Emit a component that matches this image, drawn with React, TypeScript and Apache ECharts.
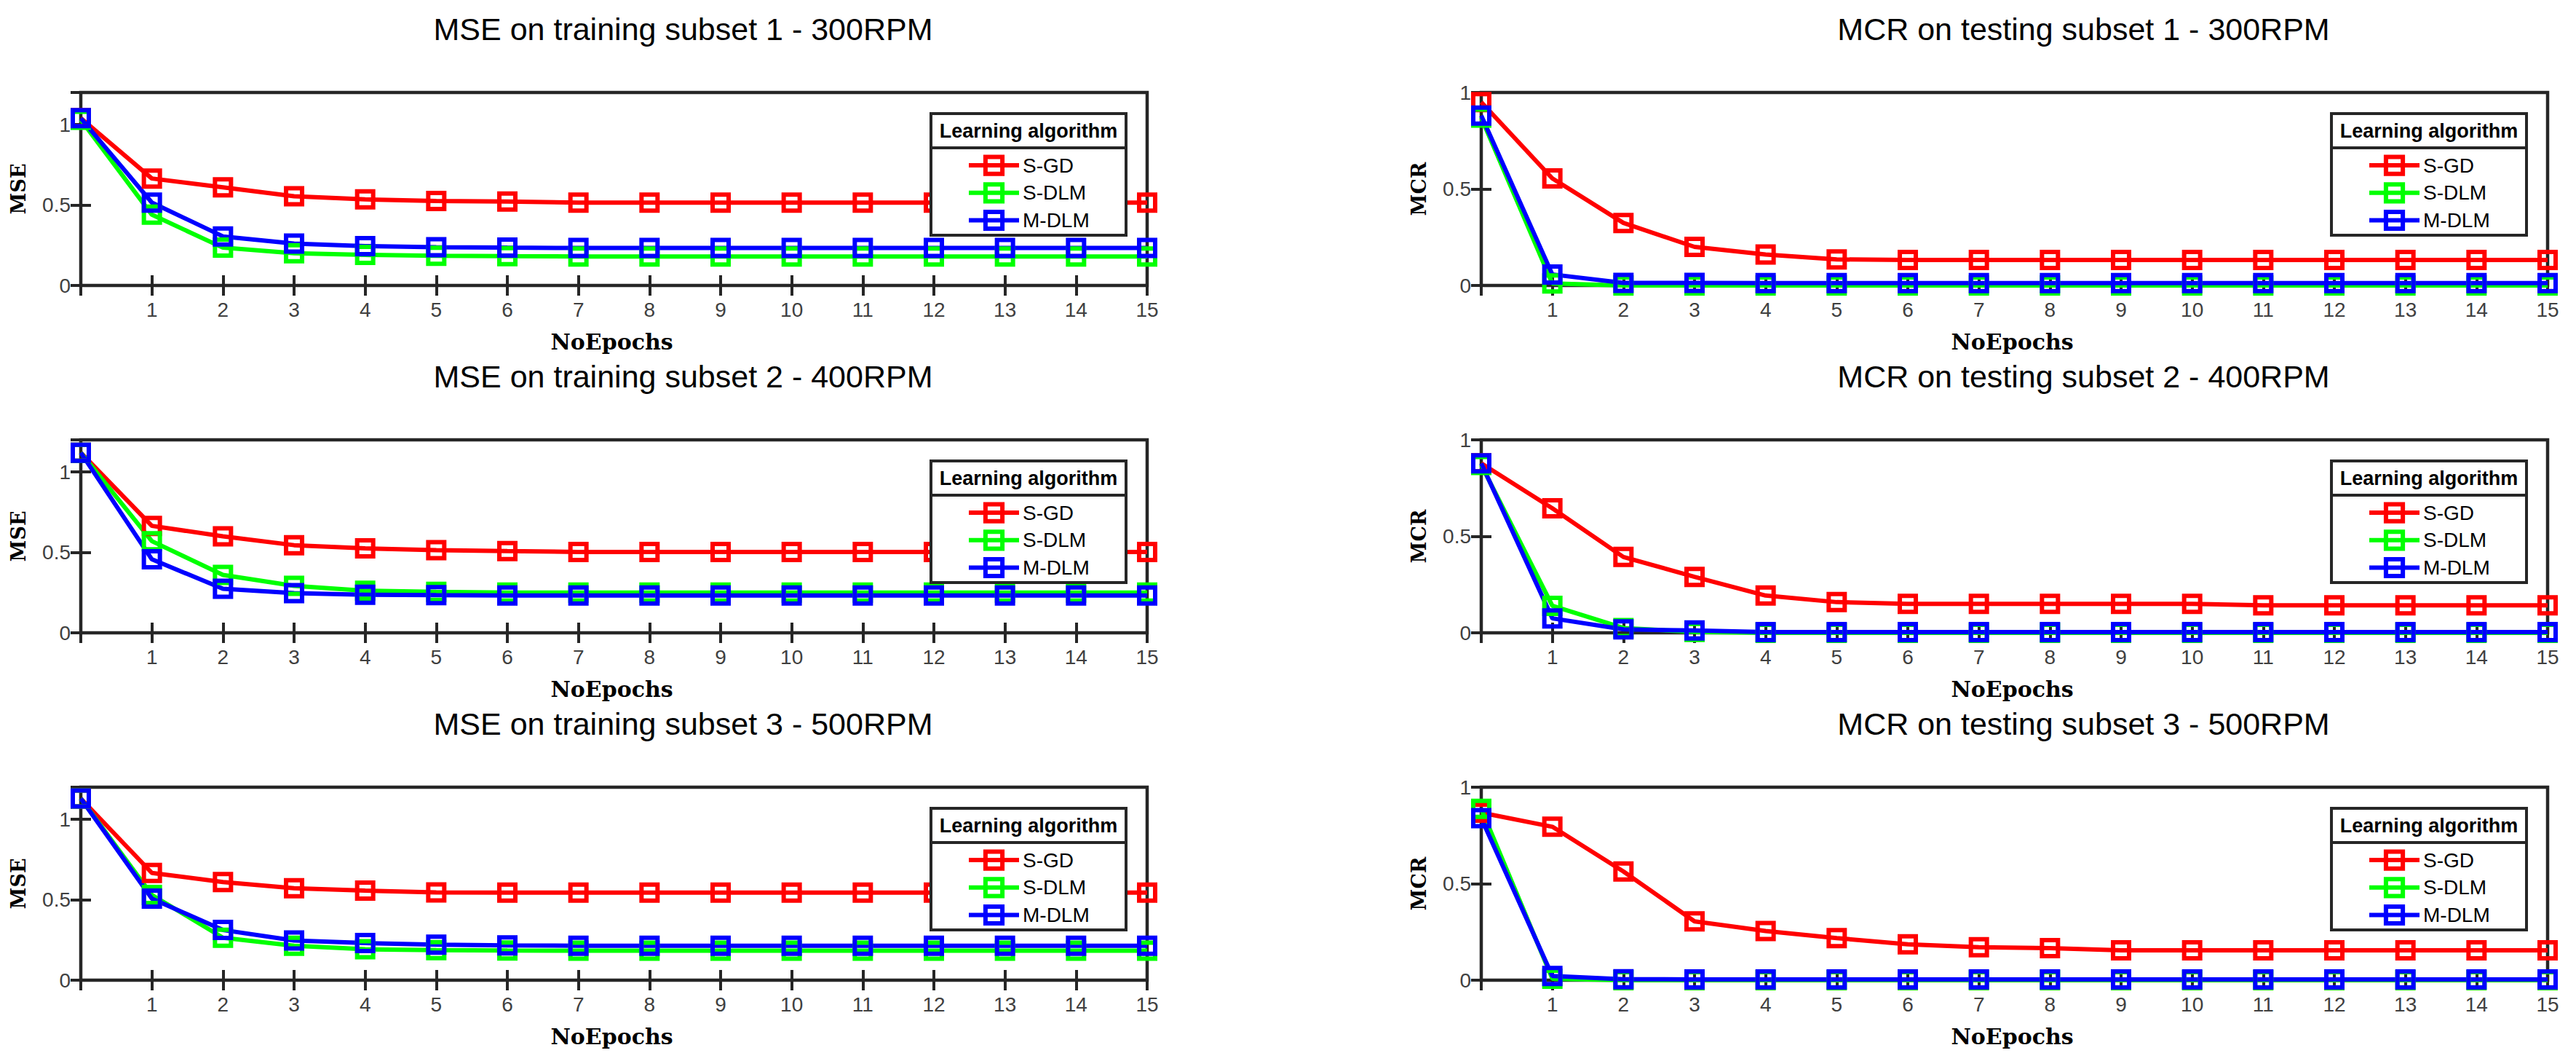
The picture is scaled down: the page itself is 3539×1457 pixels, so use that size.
import { useEffect, useRef } from 'react';
import * as echarts from 'echarts';

const epochs = [0, 1, 2, 3, 4, 5, 6, 7, 8, 9, 10, 11, 12, 13, 14, 15];
const xTickLabels = ['', '1', '2', '3', '4', '5', '6', '7', '8', '9', '10', '11', '12', '13', '14', '15'];
const yTickValues = [0, 0.5, 1];
const yTickLabels = ['0', '0.5', '1'];
const algorithms = ['S-GD', 'S-DLM', 'M-DLM'];
const algoColors = ['#ff0000', '#00ff00', '#0000ff'];

const panelTitles = [
  'MSE on training subset 1 - 300RPM',
  'MCR on testing subset 1 - 300RPM',
  'MSE on training subset 2 - 400RPM',
  'MCR on testing subset 2 - 400RPM',
  'MSE on training subset 3 - 500RPM',
  'MCR on testing subset 3 - 500RPM',
];
const panelYNames = ['MSE', 'MCR', 'MSE', 'MCR', 'MSE', 'MCR'];
const panelYMax = [1.2, 1, 1.2, 1, 1.2, 1];

// MSE, training subset 1 - 300RPM
const mse300SGD = [1.04, 0.665, 0.61, 0.555, 0.535, 0.525, 0.522, 0.515, 0.515, 0.515, 0.515, 0.515, 0.515, 0.515, 0.515, 0.515];
const mse300SDLM = [1.03, 0.44, 0.235, 0.2, 0.19, 0.185, 0.182, 0.18, 0.18, 0.18, 0.18, 0.18, 0.18, 0.18, 0.18, 0.18];
const mse300MDLM = [1.04, 0.515, 0.305, 0.26, 0.245, 0.238, 0.235, 0.233, 0.233, 0.233, 0.233, 0.233, 0.233, 0.233, 0.233, 0.233];

// MCR, testing subset 1 - 300RPM
const mcr300SGD = [0.95, 0.555, 0.324, 0.2, 0.16, 0.135, 0.132, 0.132, 0.132, 0.132, 0.132, 0.132, 0.132, 0.132, 0.132, 0.132];
const mcr300SDLM = [0.87, 0.01, 0, 0, 0, 0, 0, 0, 0, 0, 0, 0, 0, 0, 0, 0];
const mcr300MDLM = [0.88, 0.057, 0.013, 0.013, 0.012, 0.012, 0.012, 0.012, 0.012, 0.012, 0.012, 0.012, 0.012, 0.012, 0.012, 0.012];

// MSE, training subset 2 - 400RPM
const mse400SGD = [1.12, 0.665, 0.6, 0.545, 0.525, 0.514, 0.508, 0.503, 0.503, 0.503, 0.503, 0.503, 0.503, 0.503, 0.503, 0.503];
const mse400SDLM = [1.12, 0.57, 0.36, 0.292, 0.262, 0.255, 0.25, 0.25, 0.25, 0.25, 0.25, 0.25, 0.25, 0.25, 0.25, 0.25];
const mse400MDLM = [1.12, 0.457, 0.274, 0.247, 0.237, 0.234, 0.232, 0.232, 0.232, 0.232, 0.232, 0.232, 0.232, 0.232, 0.232, 0.232];

// MCR, testing subset 2 - 400RPM
const mcr400SGD = [0.878, 0.645, 0.393, 0.29, 0.193, 0.159, 0.15, 0.15, 0.15, 0.15, 0.15, 0.142, 0.142, 0.142, 0.142, 0.142];
const mcr400SDLM = [0.87, 0.14, 0.025, 0.005, 0, 0, 0, 0, 0, 0, 0, 0, 0, 0, 0, 0];
const mcr400MDLM = [0.878, 0.075, 0.018, 0.012, 0.004, 0.004, 0.004, 0.004, 0.004, 0.004, 0.004, 0.004, 0.004, 0.004, 0.004, 0.004];

// MSE, training subset 3 - 500RPM
const mse500SGD = [1.13, 0.667, 0.61, 0.572, 0.557, 0.546, 0.544, 0.544, 0.544, 0.544, 0.544, 0.544, 0.544, 0.544, 0.544, 0.544];
const mse500SDLM = [1.13, 0.53, 0.264, 0.214, 0.192, 0.187, 0.184, 0.183, 0.183, 0.183, 0.183, 0.183, 0.183, 0.183, 0.183, 0.183];
const mse500MDLM = [1.13, 0.507, 0.312, 0.247, 0.231, 0.221, 0.216, 0.214, 0.214, 0.214, 0.214, 0.214, 0.214, 0.214, 0.214, 0.214];

// MCR, testing subset 3 - 500RPM
const mcr500SGD = [0.868, 0.795, 0.563, 0.305, 0.255, 0.218, 0.186, 0.171, 0.166, 0.155, 0.155, 0.155, 0.155, 0.155, 0.155, 0.155];
const mcr500SDLM = [0.888, 0.008, 0, 0, 0, 0, 0, 0, 0, 0, 0, 0, 0, 0, 0, 0];
const mcr500MDLM = [0.84, 0.022, 0.005, 0.004, 0.004, 0.004, 0.004, 0.004, 0.004, 0.004, 0.004, 0.004, 0.004, 0.004, 0.004, 0.004];

const panelData = [
  [mse300SGD, mse300SDLM, mse300MDLM],
  [mcr300SGD, mcr300SDLM, mcr300MDLM],
  [mse400SGD, mse400SDLM, mse400MDLM],
  [mcr400SGD, mcr400SDLM, mcr400MDLM],
  [mse500SGD, mse500SDLM, mse500MDLM],
  [mcr500SGD, mcr500SDLM, mcr500MDLM],
];

// layout (px)
const WIDTH = 3539;
const HEIGHT = 1457;
const COL_LEFT = [111, 2035];
const ROW_TOP = [127, 604, 1081];
const PLOT_W = 1465;
const PLOT_H = 265;
const AXIS_COLOR = '#262626';
const TICK_COLOR = '#404040';

function buildOption(): echarts.EChartsOption {
  const grids: any[] = [];
  const xAxes: any[] = [];
  const yAxes: any[] = [];
  const series: any[] = [];
  const legends: any[] = [];
  const graphics: any[] = [];

  panelTitles.forEach((title, p) => {
    const left = COL_LEFT[p % 2];
    const top = ROW_TOP[Math.floor(p / 2)];
    const right = left + PLOT_W;
    const bottom = top + PLOT_H;

    grids.push({
      left,
      top,
      width: PLOT_W,
      height: PLOT_H,
      show: true,
      borderColor: AXIS_COLOR,
      borderWidth: 4.5,
      backgroundColor: 'transparent',
    });

    const tick = { show: true, inside: true, length: 14, lineStyle: { color: AXIS_COLOR, width: 4 } };

    xAxes.push({
      gridIndex: p,
      type: 'value',
      position: 'bottom',
      min: 0,
      max: 15,
      interval: 1,
      axisLine: { show: false },
      axisTick: tick,
      splitLine: { show: false },
      axisLabel: {
        margin: 19,
        fontSize: 28,
        fontFamily: 'Liberation Sans',
        color: TICK_COLOR,
        formatter: (v: number) => xTickLabels[Math.round(v)] ?? '',
      },
    });
    xAxes.push({
      gridIndex: p,
      type: 'value',
      position: 'top',
      min: 0,
      max: 15,
      interval: 1,
      axisLine: { show: false },
      axisTick: tick,
      splitLine: { show: false },
      axisLabel: { show: false },
    });

    yAxes.push({
      gridIndex: p,
      type: 'value',
      position: 'left',
      min: 0,
      max: panelYMax[p],
      interval: 0.5,
      axisLine: { show: false },
      axisTick: tick,
      splitLine: { show: false },
      axisLabel: {
        margin: 14,
        fontSize: 28,
        fontFamily: 'Liberation Sans',
        color: TICK_COLOR,
        formatter: (v: number) => {
          const i = yTickValues.findIndex((t) => Math.abs(t - v) < 1e-6);
          return i >= 0 ? yTickLabels[i] : '';
        },
      },
    });
    yAxes.push({
      gridIndex: p,
      type: 'value',
      position: 'right',
      min: 0,
      max: panelYMax[p],
      interval: 0.5,
      axisLine: { show: false },
      axisTick: tick,
      splitLine: { show: false },
      axisLabel: { show: false },
    });

    algorithms.forEach((name, s) => {
      series.push({
        type: 'line',
        name,
        xAxisIndex: p * 2,
        yAxisIndex: p * 2,
        data: epochs.map((e, i) => [e, panelData[p][s][i]]),
        symbol: 'rect',
        symbolSize: 22,
        clip: false,
        lineStyle: { color: algoColors[s], width: 6 },
        itemStyle: { color: 'transparent', borderColor: algoColors[s], borderWidth: 6 },
        emphasis: { disabled: true },
        z: 2,
      });
    });

    legends.push({
      orient: 'vertical',
      left: right - 248,
      top: top + 100 - 14.5,
      itemWidth: 69,
      itemHeight: 29,
      itemGap: 8.5,
      padding: 0,
      selectedMode: false,
      data: algorithms,
      z: 60,
      textStyle: { fontSize: 28, fontFamily: 'Liberation Sans', color: '#000' },
      itemStyle: { color: 'transparent', borderWidth: 6 },
      lineStyle: { width: 6 },
    });

    // legend frame with its heading
    graphics.push({
      type: 'rect',
      z: 50,
      shape: { x: right - 297, y: top + 29, width: 268, height: 167 },
      style: { fill: '#fff', stroke: AXIS_COLOR, lineWidth: 4 },
    });
    graphics.push({
      type: 'line',
      z: 51,
      shape: { x1: right - 297, y1: top + 76, x2: right - 29, y2: top + 76 },
      style: { stroke: AXIS_COLOR, lineWidth: 4 },
    });
    graphics.push({
      type: 'text',
      z: 51,
      x: right - 163,
      y: top + 53,
      style: {
        text: 'Learning algorithm',
        fontSize: 27,
        fontWeight: 'bold',
        fontFamily: 'Liberation Sans',
        fill: '#000',
        align: 'center',
        verticalAlign: 'middle',
      },
    });

    // panel title
    graphics.push({
      type: 'text',
      x: left + PLOT_W / 2 + 95,
      y: top - 87,
      style: {
        text: title,
        fontSize: 43,
        fontFamily: 'Liberation Sans',
        fill: '#000',
        align: 'center',
        verticalAlign: 'middle',
      },
    });
    // x axis name
    graphics.push({
      type: 'text',
      x: left + PLOT_W / 2 - 3,
      y: bottom + 77,
      style: {
        text: 'NoEpochs',
        fontSize: 30,
        fontWeight: 'bold',
        fontFamily: 'DejaVu Serif',
        fill: '#000',
        align: 'center',
        verticalAlign: 'middle',
      },
    });
    // y axis name
    graphics.push({
      type: 'text',
      x: left - 86,
      y: top + PLOT_H / 2,
      rotation: Math.PI / 2,
      style: {
        text: panelYNames[p],
        fontSize: 27,
        fontWeight: 'bold',
        fontFamily: 'DejaVu Serif',
        fill: '#000',
        align: 'center',
        verticalAlign: 'middle',
      },
    });
  });

  return {
    animation: false,
    backgroundColor: '#fff',
    grid: grids,
    xAxis: xAxes,
    yAxis: yAxes,
    legend: legends,
    series,
    graphic: graphics,
  };
}

export default function App() {
  const chartRef = useRef<HTMLDivElement>(null);

  useEffect(() => {
    if (!chartRef.current) return;
    const chart = echarts.init(chartRef.current, null, { renderer: 'svg' });
    chart.setOption(buildOption());
    return () => {
      chart.dispose();
    };
  }, []);

  return (
    <div
      ref={chartRef}
      style={{ position: 'absolute', left: 0, top: 0, width: WIDTH, height: HEIGHT, background: '#fff' }}
    />
  );
}
